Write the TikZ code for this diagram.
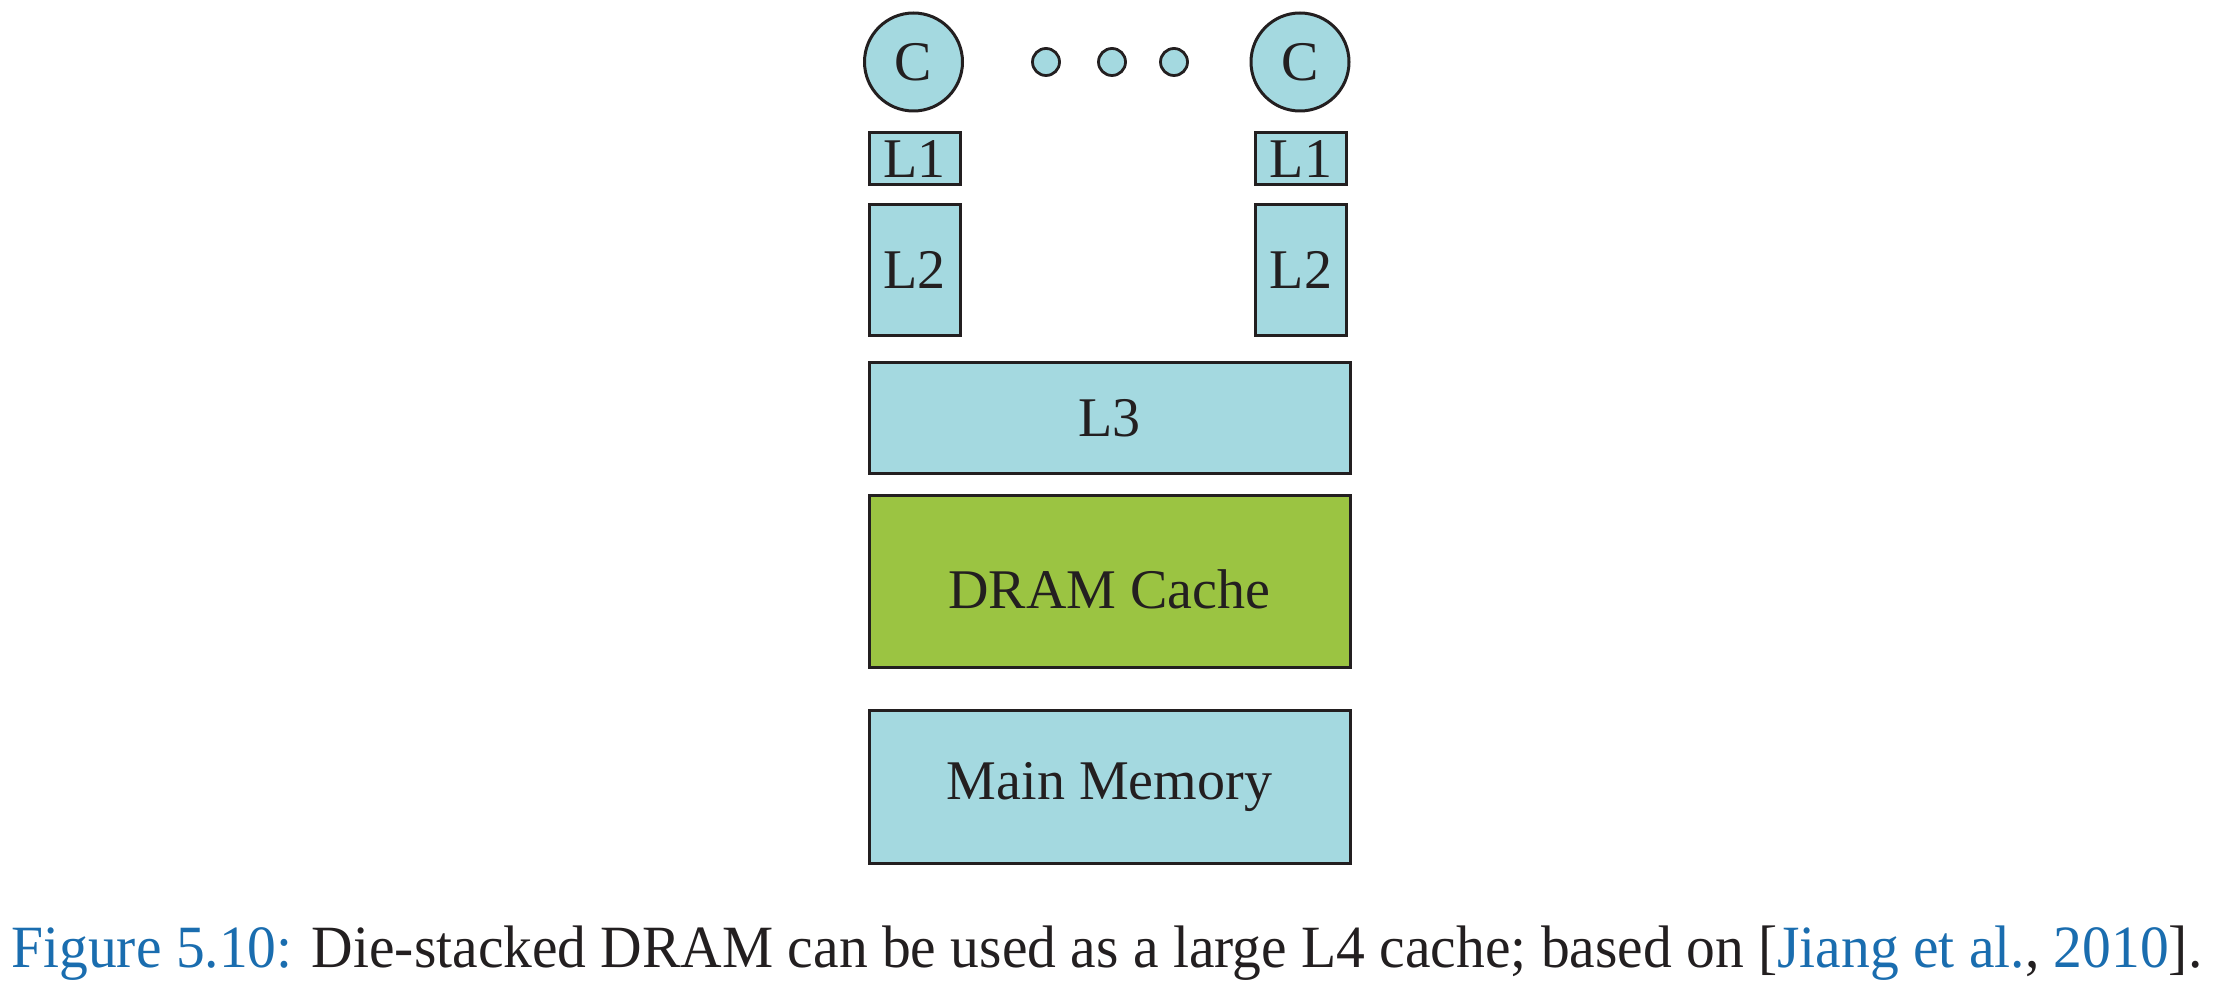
\documentclass[tikz,border=0pt]{standalone}
\usepackage{fontspec}
\setmainfont{Liberation Serif}
\usepackage{graphicx}
\definecolor{cacheblue}{RGB}{164,217,224}
\definecolor{dramgreen}{RGB}{155,196,66}
\definecolor{edgeblack}{RGB}{35,31,32}
\definecolor{capblue}{RGB}{26,109,175}
\begin{document}
\begin{tikzpicture}[x=0.5pt,y=-0.5pt,
  blk/.style={draw=edgeblack,line width=1.5pt,fill=cacheblue,rectangle,inner sep=0pt,
    text=edgeblack,font=\fontsize{28pt}{30pt}\selectfont,text height=18.5pt,text depth=0pt},
  core/.style={draw=edgeblack,line width=1.5pt,fill=cacheblue,circle,inner sep=0pt,
    minimum size=49pt,text=edgeblack,font=\fontsize{28pt}{30pt}\selectfont,text height=18.5pt,text depth=0pt},
  dotc/.style={draw=edgeblack,line width=1.4pt,fill=cacheblue,circle,inner sep=0pt,minimum size=13.5pt},
  small/.style={blk,minimum width=45.5pt},
  wide/.style={blk,minimum width=240.5pt}]
\useasboundingbox (0,0) rectangle (2213,999);
\node[core] (c1) at (913.5,62) {C};
\node[core] (c2) at (1300,62) {C};
\node[dotc] (d1) at (1046,62) {};
\node[dotc] (d2) at (1112,62) {};
\node[dotc] (d3) at (1174,62) {};
\node[small,minimum height=26pt] (l1a) at (914.5,159) {L1};
\node[small,minimum height=26pt] (l1b) at (1301,159) {L1};
\node[small,minimum height=65.5pt] (l2a) at (914.5,270.5) {L2};
\node[small,minimum height=65.5pt] (l2b) at (1301,270.5) {L2};
\node[wide,minimum height=55.5pt] (l3) at (1109.5,418.5) {L3};
\node[wide,minimum height=86pt,fill=dramgreen,text height=26.5pt] (dram) at (1109.5,582) {DRAM Cache};
\node[wide,minimum height=76pt,text depth=6pt] (mem) at (1109.5,787) {Main Memory};
\node[anchor=base west,inner sep=0pt,text=edgeblack,font=\fontsize{30pt}{32pt}\selectfont] (cap) at (11,967)
  {\resizebox{1095.5pt}{\height}{\textcolor{capblue}{Figure 5.10:} Die-stacked DRAM can be used as a large L4 cache; based on [\textcolor{capblue}{Jiang et al.}, \textcolor{capblue}{2010}].}};
\end{tikzpicture}
\end{document}
